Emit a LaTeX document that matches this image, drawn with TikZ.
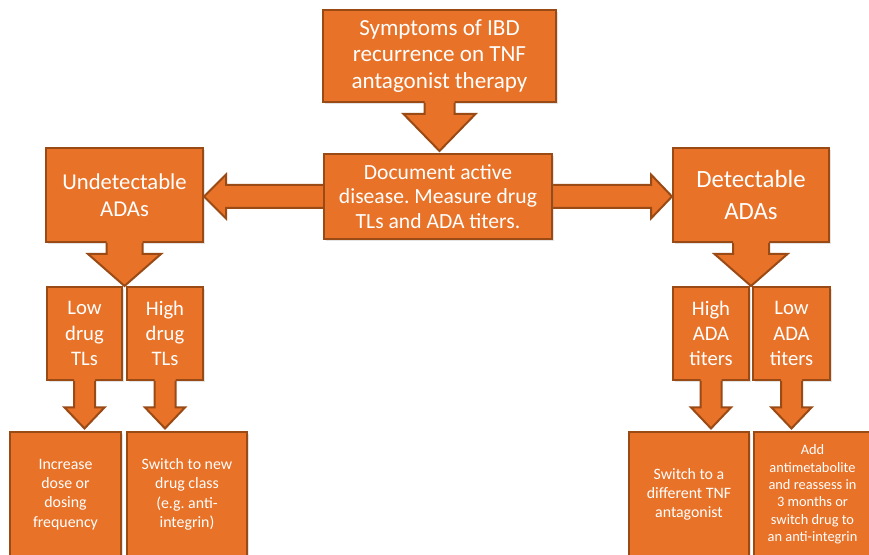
\documentclass[tikz,border=0pt]{standalone}
\usepackage{fontspec}
\setmainfont{Carlito}
\frenchspacing
\usetikzlibrary{calc,shadows}
\definecolor{fillc}{RGB}{232,114,40}
\definecolor{bordc}{RGB}{154,74,20}
\tikzset{
  box/.style={draw=bordc, fill=fillc, line width=1.5pt, text=white, align=center, inner sep=0pt,
    drop shadow={opacity=0.22, shadow xshift=1.2pt, shadow yshift=-1.5pt}},
  lowbox/.style={box, line width=0.8pt},
  arrowfill/.style={fill=fillc},
  arrowline/.style={draw=bordc, line width=1.5pt, line join=miter},
}
% #1 source, #2 target, #3 shaft half, #4 head half, #5 head length, #6 gap (all px)
\newcommand{\downblock}[6]{%
  \fill[arrowfill] let \p1=(#1.south), \p2=(#2.north) in
    (\x1-#3*0.75pt,\y1+2.5*0.75pt) -- (\x1+#3*0.75pt,\y1+2.5*0.75pt)
    -- (\x1+#3*0.75pt,\y2+#6*0.75pt+#5*0.75pt) -- (\x1+#4*0.75pt,\y2+#6*0.75pt+#5*0.75pt)
    -- (\x1,\y2+#6*0.75pt) -- (\x1-#4*0.75pt,\y2+#6*0.75pt+#5*0.75pt)
    -- (\x1-#3*0.75pt,\y2+#6*0.75pt+#5*0.75pt) -- cycle;
  \draw[arrowline] let \p1=(#1.south), \p2=(#2.north) in
    (\x1-#3*0.75pt,\y1) -- (\x1-#3*0.75pt,\y2+#6*0.75pt+#5*0.75pt)
    -- (\x1-#4*0.75pt,\y2+#6*0.75pt+#5*0.75pt) -- (\x1,\y2+#6*0.75pt)
    -- (\x1+#4*0.75pt,\y2+#6*0.75pt+#5*0.75pt) -- (\x1+#3*0.75pt,\y2+#6*0.75pt+#5*0.75pt)
    -- (\x1+#3*0.75pt,\y1);
}
\begin{document}
\begin{tikzpicture}[x=0.75pt,y=-0.75pt]
\useasboundingbox (0,0) rectangle (869,555);

% top
\node[box, minimum width=174.75pt, minimum height=69pt, font=\fontsize{17.3pt}{20pt}\selectfont]
  (top) at (439.5,56) {Symptoms of IBD\\recurrence on TNF\\antagonist therapy};

% side boxes
\node[box, minimum width=117.75pt, minimum height=70.5pt, font=\fontsize{17pt}{20.2pt}\selectfont]
  (und) at (124.5,195) {Undetectable\\ADAs};
\node[box, minimum width=117pt, minimum height=70.5pt, font=\fontsize{18.6pt}{24pt}\selectfont]
  (det) at (751,195) {Detectable\\ADAs};

% middle box (placed later, drawn over double arrow)
\path (438,196.5) coordinate (midc);

% double arrow behind the middle box
\filldraw[arrowfill, arrowline] let \p1=(und.east), \p2=(det.west), \p3=(midc) in
  (\x1,\y3) -- (\x1+22*0.75pt,\y3+22*0.75pt) -- (\x1+22*0.75pt,\y3+11.5*0.75pt)
  -- (\x2-21*0.75pt,\y3+11.5*0.75pt) -- (\x2-21*0.75pt,\y3+22*0.75pt) -- (\x2,\y3)
  -- (\x2-21*0.75pt,\y3-22*0.75pt) -- (\x2-21*0.75pt,\y3-11.5*0.75pt)
  -- (\x1+22*0.75pt,\y3-11.5*0.75pt) -- (\x1+22*0.75pt,\y3-22*0.75pt) -- cycle;

\node[box, minimum width=171pt, minimum height=63.75pt, font=\fontsize{16.2pt}{18.4pt}\selectfont]
  (mid) at (midc) {Document active\\disease. Measure drug\\TLs and ADA titers.};

% second level
\tikzset{second/.style={box, minimum height=69.75pt, font=\fontsize{15.5pt}{19pt}\selectfont}}
\node[second, minimum width=56.25pt] (lowdrug) at (84.5,333.5) {Low\\drug\\TLs};
\node[second, minimum width=57pt] (highdrug) at (165,333.5) {High\\drug\\TLs};
\node[second, minimum width=57pt] (highada) at (711,333.5) {High\\ADA\\titers};
\node[second, minimum width=57.75pt] (lowada) at (791.5,333.5) {Low\\ADA\\titers};

% bottom level
\tikzset{third/.style={lowbox, minimum height=93.75pt, font=\fontsize{11.9pt}{14.5pt}\selectfont}}
\node[third, minimum width=83.25pt] (inc) at (65.5,494.5) {Increase\\dose or\\dosing\\frequency};
\node[third, minimum width=90pt] (newclass) at (187,494.5) {Switch to new\\drug class\\(e.g. anti-\\integrin)};
\node[third, minimum width=90pt] (difftnf) at (689,494.5) {Switch to a\\different TNF\\antagonist};
\node[third, minimum width=87.75pt, font=\fontsize{10.8pt}{13pt}\selectfont] (addanti) at (812.5,494.5)
  {Add\\antimetabolite\\and reassess in\\3 months or\\switch drug to\\an anti-integrin};

% block arrows
\downblock{top}{mid}{15}{36}{37}{2}
\downblock{und}{lowdrug}{18}{36.5}{32}{0}
\downblock{det}{highada}{18}{36.5}{32}{0}
\downblock{lowdrug}{inc}{10.5}{20}{21}{3}
\downblock{highdrug}{newclass}{10.5}{20}{21}{3}
\downblock{highada}{difftnf}{10.5}{20}{21}{3}
\downblock{lowada}{addanti}{10.5}{20}{21}{3}
\end{tikzpicture}
\end{document}
